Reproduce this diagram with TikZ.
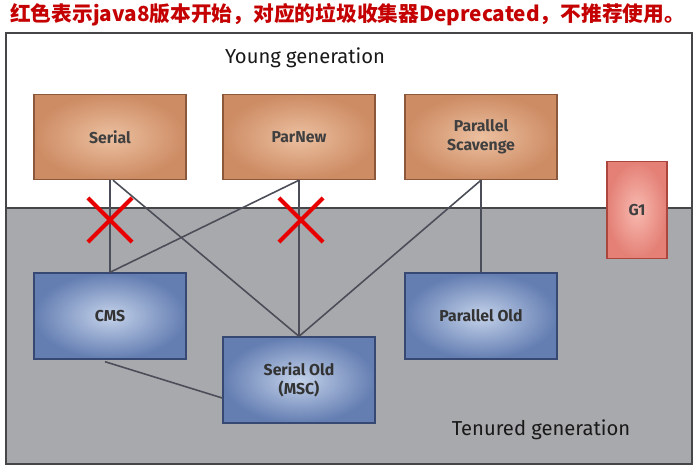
\documentclass[tikz,border=0pt]{standalone}
\usepackage{fontspec}
\usetikzlibrary{positioning,calc,shapes.misc}
\newfontfamily\cjk{Noto Sans CJK SC}
\newfontfamily\gcfont{Fira Sans}
\definecolor{titlered}{RGB}{196,0,0}
\definecolor{heapgray}{RGB}{168,169,172}
\definecolor{framegray}{RGB}{70,70,72}
\definecolor{youngedge}{RGB}{205,140,100}
\definecolor{younginner}{RGB}{236,192,160}
\definecolor{youngborder}{RGB}{140,88,60}
\definecolor{oldedge}{RGB}{100,126,178}
\definecolor{oldinner}{RGB}{196,210,234}
\definecolor{oldborder}{RGB}{55,72,115}
\definecolor{gedge}{RGB}{228,128,118}
\definecolor{ginner}{RGB}{248,186,176}
\definecolor{gborder}{RGB}{170,70,62}
\definecolor{linkgray}{RGB}{75,78,88}
\definecolor{crossred}{RGB}{232,0,0}
\tikzset{
  young/.style={draw=youngborder, line width=0.8pt, inner color=younginner, outer color=youngedge,
    minimum width=3.04cm, minimum height=1.7cm, align=center, font=\gcfont\bfseries\small, text=black!75},
  old/.style={draw=oldborder, line width=0.8pt, inner color=oldinner, outer color=oldedge,
    minimum width=3.04cm, minimum height=1.72cm, align=center, font=\gcfont\bfseries\small, text=black!80},
  garbagefirst/.style={draw=gborder, line width=0.8pt, inner color=ginner, outer color=gedge,
    minimum width=1.2cm, minimum height=1.94cm, font=\gcfont\bfseries\small, text=black!75},
  link/.style={draw=linkgray, line width=0.9pt},
  deprecated/.style={cross out, draw=crossred, line width=2.4pt, minimum size=0.8cm, inner sep=0pt},
  gen/.style={font=\gcfont\fontsize{11.5}{13}\selectfont, text=black!90}
}
\begin{document}
\begin{tikzpicture}[x=0.02cm, y=-0.02cm]
    \useasboundingbox (0,0) rectangle (700,471);
    \fill[white] (0,0) rectangle (700,471);
    \fill[white] (6,33) rectangle (692,208);
    \fill[heapgray] (6,208) rectangle (692,464);
    \draw[framegray, line width=1.5pt] (6,208) -- (692,208);
    \draw[framegray, line width=1.2pt] (6,33) rectangle (692,464);
    \node[anchor=west, text=titlered, font=\cjk\bfseries\fontsize{11.8}{14}\selectfont] (title) at (4,15)
        {红色表示java8版本开始，对应的垃圾收集器Deprecated，不推荐使用。};
    \node[gen] (younglbl) at (305,58) {Young generation};
    \node[gen] (tenuredlbl) at (541,430) {Tenured generation};

    \node[young] (serial) at (110,137) {Serial};
    \node[young] (parnew) at (299,137) {ParNew};
    \node[young] (scavenge) at (481,137) {Parallel\\Scavenge};
    \node[garbagefirst] (g1) at (637,210) {G1};
    \node[old] (cms) at (110,316) {CMS};
    \node[old] (serialold) at (299,380) {Serial Old\\(MSC)};
    \node[old] (parallelold) at (481,316) {Parallel Old};

    \draw[link] (serial.south) -- (cms.north);
    \draw[link] ($(serial.south)+(3,0)$) -- (serialold.north);
    \draw[link] (parnew.south) -- (serialold.north);
    \draw[link] (parnew.south) -- (cms.north);
    \draw[link] (scavenge.south) -- (parallelold.north);
    \draw[link] (scavenge.south) -- (serialold.north);
    \draw[link] ($(cms.south)+(-5,2)$) -- ($(serialold.west)+(0,18)$);

    \node[deprecated] (cut1) at (110,220) {};
    \node[deprecated] (cut2) at (301,220) {};
\end{tikzpicture}
\end{document}
